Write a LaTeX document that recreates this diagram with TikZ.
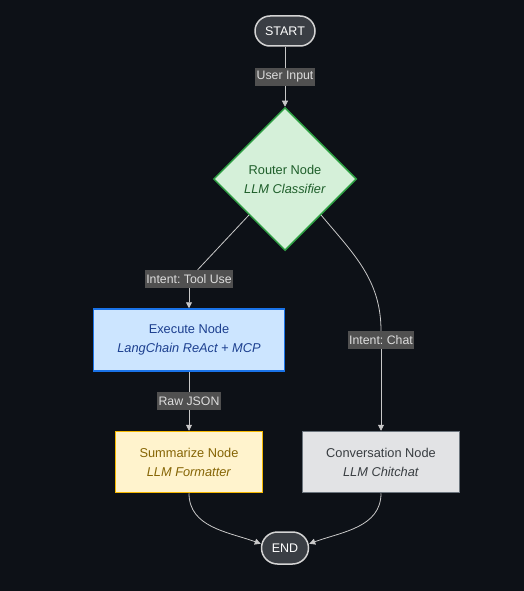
\documentclass[tikz,border=0pt]{standalone}
\usepackage{fontspec}
\setmainfont{Liberation Sans}
\usetikzlibrary{shapes.geometric,arrows.meta}

\definecolor{bgcol}{HTML}{0D1117}
\definecolor{termfill}{HTML}{3A3E44}
\definecolor{termline}{HTML}{D4D4D4}
\definecolor{lblfill}{HTML}{505050}
\definecolor{lbltext}{HTML}{DDDDDD}
\definecolor{edgecol}{HTML}{C8C8C8}
\definecolor{routerfill}{HTML}{D5F0D9}
\definecolor{routerline}{HTML}{2EA043}
\definecolor{routertext}{HTML}{1E5E2A}
\definecolor{execfill}{HTML}{CCE5FF}
\definecolor{execline}{HTML}{1A73E8}
\definecolor{exectext}{HTML}{1C3F8F}
\definecolor{summfill}{HTML}{FFF3CD}
\definecolor{summline}{HTML}{F5B800}
\definecolor{summtext}{HTML}{856404}
\definecolor{convfill}{HTML}{E2E3E5}
\definecolor{convline}{HTML}{6C757D}
\definecolor{convtext}{HTML}{383D41}

\frenchspacing

\begin{document}
\begin{tikzpicture}[x=1pt,y=1pt]

	\tikzset{
		term/.style={draw=termline,fill=termfill,text=white,line width=1.5pt,rounded corners=15pt,inner sep=0pt,font=\fontsize{12.5}{15}\selectfont},
		lbl/.style={fill=lblfill,text=lbltext,inner xsep=1.5pt,inner ysep=0pt,minimum height=18pt,font=\fontsize{12.3}{14}\selectfont},
		box/.style={rectangle,line width=1.5pt,align=center,inner sep=0pt,font=\fontsize{12.8}{19}\selectfont},
		flow/.style={draw=edgecol,line width=0.8pt},
		arr/.style={flow,-{Triangle[width=6pt,length=6pt]}}
	}

	% background
	\fill[bgcol] (0,0) rectangle (524,-591);
	\useasboundingbox (0,0) rectangle (524,-591);

	% nodes
	\node[term,minimum width=60pt,minimum height=30pt] (start) at (285,-31) {START};
	\node[lbl] (lblin) at (285,-77) {User Input};

	\node[diamond,aspect=1,draw=routerline,fill=routerfill,text=routertext,line width=1.5pt,minimum width=143pt,minimum height=143pt,inner sep=0pt,align=center,font=\fontsize{12.8}{19}\selectfont] (router) at (285,-179) {Router Node\\\textit{LLM Classifier}};

	\node[lbl] (lbltool) at (189,-279) {Intent: Tool Use};
	\node[lbl] (lblchat) at (381,-340) {Intent: Chat};

	\node[box,draw=execline,fill=execfill,text=exectext,minimum width=191pt,minimum height=62pt] (exec) at (189,-340) {Execute Node\\\textit{LangChain ReAct + MCP}};
	\node[lbl] (lbljson) at (189,-401) {Raw JSON};

	\node[box,draw=summline,fill=summfill,text=summtext,minimum width=147pt,minimum height=61pt] (summ) at (189,-462) {Summarize Node\\\textit{LLM Formatter}};
	\node[box,draw=convline,fill=convfill,text=convtext,minimum width=157pt,minimum height=61pt] (conv) at (381,-462) {Conversation Node\\\textit{LLM Chitchat}};

	\node[term,minimum width=47pt,minimum height=32pt,rounded corners=16pt] (endn) at (285,-548) {END};

	% connectors
	\draw[flow] (start) -- (lblin);
	\draw[arr] (lblin) -- (router);

	\draw[flow] (router.225) -- (lbltool);
	\draw[arr] (lbltool) -- (exec);

	\draw[flow] (router.-45) to[out=-50,in=90] (lblchat);
	\draw[arr] (lblchat) -- (conv);

	\draw[flow] (exec) -- (lbljson);
	\draw[arr] (lbljson) -- (summ);

	\draw[arr] (summ.south) to[out=-90,in=160] (endn.170);
	\draw[arr] (conv.south) to[out=-90,in=20] (endn.10);

\end{tikzpicture}
\end{document}
